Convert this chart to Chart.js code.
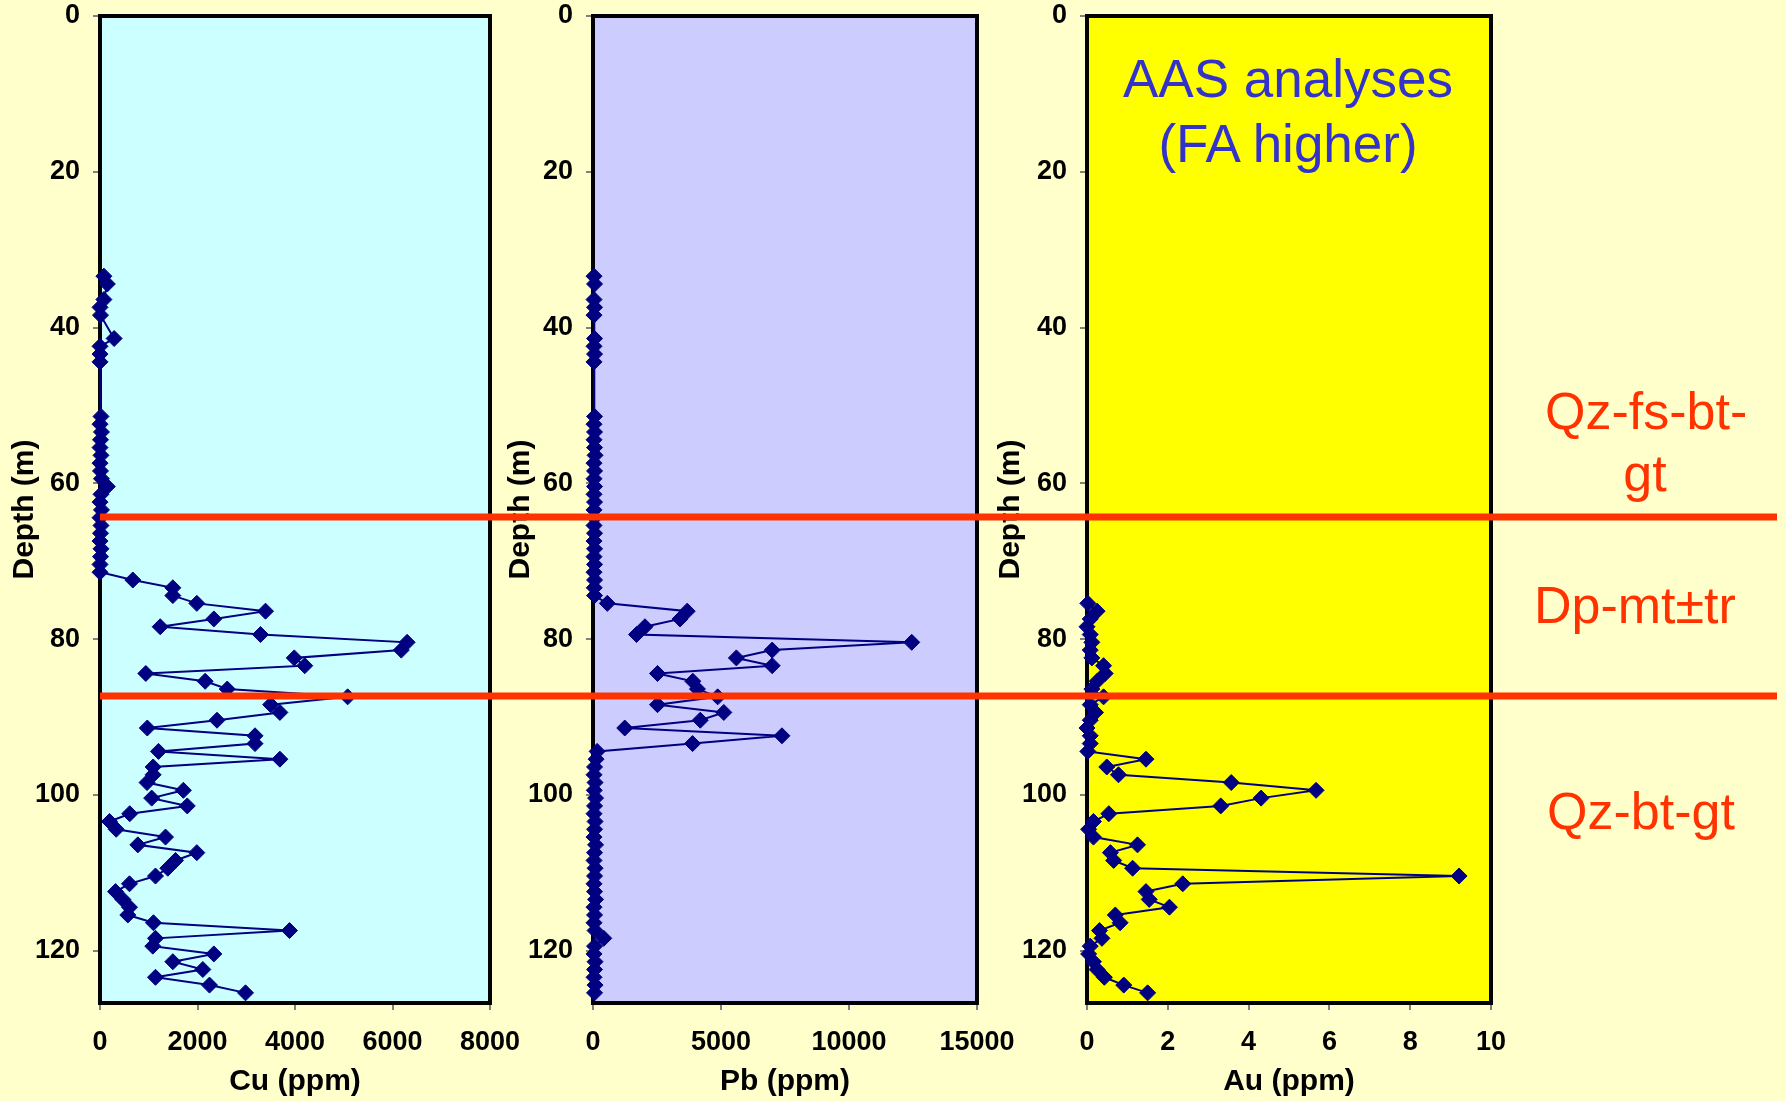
<!DOCTYPE html>
<html>
<head>
<meta charset="utf-8">
<title>Drill hole Cu-Pb-Au vs depth</title>
<script src="https://cdn.jsdelivr.net/npm/chart.js@4.4.1/dist/chart.umd.min.js"></script>
<style>
  html, body { margin: 0; padding: 0; background: #FFFFCC; overflow: hidden; }
  #stage { position: relative; width: 1786px; height: 1101px; font-family: "Liberation Sans", Arial, sans-serif; }
  #stage canvas { position: absolute; top: 0; }
  .note { position: absolute; text-align: center; white-space: nowrap; font-size: 52px; line-height: 62px; }
  .rock { color: #FF3300; }
  .aas { color: #3333CC; font-size: 53px; line-height: 65px; }
</style>
</head>
<body>
<div id="stage">
  <canvas id="cu" width="540" height="1101" style="left:0px"></canvas>
  <canvas id="pb" width="540" height="1101" style="left:496px"></canvas>
  <canvas id="au" width="540" height="1101" style="left:986px"></canvas>
  <canvas id="contacts" width="1786" height="1101" style="left:0px;pointer-events:none"></canvas>
  <div class="note aas" style="left:1088px;width:400px;top:46px">AAS analyses<br>(FA higher)</div>
  <div class="note rock" style="left:1545px;width:200px;top:380px">Qz-fs-bt-<br>gt</div>
  <div class="note rock" style="left:1534px;width:200px;top:574px">Dp-mt±tr</div>
  <div class="note rock" style="left:1541px;width:200px;top:780px">Qz-bt-gt</div>
</div>
<script>
// ── data: sample depths (m) and assays ─────────────────────────────────────
const drillDepth = [
  33.4, 34.4, 36.4, 37.4, 38.4, 41.4, 42.4, 43.4, 44.4,
  51.4, 52.4, 53.4, 54.4, 55.4, 56.4, 57.4, 58.4, 59.4, 60.4, 61.4,
  62.4, 63.4, 64.4, 65.4, 66.4, 67.4, 68.4, 69.4, 70.4, 71.4,
  72.4, 73.4, 74.4, 75.4, 76.4, 77.4, 78.4, 79.4, 80.4, 81.4,
  82.4, 83.4, 84.4, 85.4, 86.4, 87.4, 88.4, 89.4, 90.4, 91.4,
  92.4, 93.4, 94.4, 95.4, 96.4, 97.4, 98.4, 99.4, 100.4, 101.4,
  102.4, 103.4, 104.4, 105.4, 106.4, 107.4, 108.4, 109.4, 110.4, 111.4,
  112.4, 113.4, 114.4, 115.4, 116.4, 117.4, 118.4, 119.4, 120.4, 121.4,
  122.4, 123.4, 124.4, 125.4
];
const cuPpm = [
  80, 150, 80, 0, 10, 290, 0, 0, 0,
  20, 0, 30, 10, 0, 20, 0, 10, 30, 150, 20,
  0, 30, 0, 20, 10, 0, 20, 10, 0, 0,
  673, 1494, 1494, 1986, 3395, 2335, 1235, 3292, 6300, 6180,
  3985, 4200, 940, 2157, 2610, 5080, 3500, 3690, 2400, 970,
  3180, 3180, 1200, 3690, 1090, 1090, 965, 1710, 1060, 1790,
  610, 195, 332, 1344, 776, 1986, 1549, 1391, 1138, 605,
  318, 468, 605, 571, 1097, 3887, 1138, 1083, 2335, 1494,
  2109, 1138, 2246, 2985
];
const pbPpm = [
  40, 60, 40, 60, 40, 60, 40, 60, 40,
  60, 40, 60, 40, 60, 80, 40, 60, 40, 60, 40,
  60, 40, 60, 40, 60, 40, 60, 40, 60, 40,
  60, 50, 60, 560, 3680, 3400, 2030, 1700, 12450, 7000,
  5600, 7000, 2520, 3900, 4080, 4870, 2520, 5110, 4190, 1240,
  7380, 3890, 160, 120, 60, 40, 80, 50, 100, 60,
  40, 80, 60, 40, 100, 60, 40, 80, 60, 40,
  60, 100, 40, 60, 40, 80, 420, 60, 40, 80,
  60, 40, 80, 60
];
const auDepth = [
  75.4, 76.4, 77.4, 78.4, 79.4, 80.4, 81.4, 82.4, 83.4, 84.4,
  85.4, 86.4, 87.4, 88.4, 89.4, 90.4, 91.4, 92.4, 93.4, 94.4,
  95.4, 96.4, 97.4, 98.4, 99.4, 100.4, 101.4, 102.4, 103.4, 104.4,
  105.4, 106.4, 107.4, 108.4, 109.4, 110.4, 111.4, 112.4, 113.4, 114.4,
  115.4, 116.4, 117.4, 118.4, 119.4, 120.4, 121.4, 122.4, 123.4, 124.4,
  125.4
];
const auPpm = [
  0.02, 0.25, 0.08, 0.0, 0.08, 0.12, 0.08, 0.12, 0.41, 0.45,
  0.25, 0.12, 0.41, 0.08, 0.21, 0.08, 0.0, 0.08, 0.08, 0.02,
  1.46, 0.49, 0.78, 3.57, 5.67, 4.31, 3.31, 0.54, 0.16, 0.04,
  0.16, 1.25, 0.58, 0.66, 1.13, 9.21, 2.37, 1.46, 1.54, 2.04,
  0.70, 0.82, 0.31, 0.37, 0.08, 0.04, 0.16, 0.25, 0.43, 0.91,
  1.50
];
// lithology contacts (m)
const contactDepths = [64.3, 87.3];

const FONT = '"Liberation Sans", Arial, sans-serif';
const NAVY = '#000080';

// plot background + black frame, drawn under the data (markers overlap the frame)
const panelFrame = {
  id: 'panelFrame',
  beforeDatasetsDraw(chart, args, opts) {
    const { ctx, chartArea: a } = chart;
    ctx.save();
    ctx.fillStyle = opts.fill;
    ctx.fillRect(a.left, a.top, a.right - a.left, a.bottom - a.top);
    ctx.strokeStyle = '#000';
    ctx.lineWidth = 4;
    ctx.strokeRect(a.left, a.top, a.right - a.left, a.bottom - a.top);
    ctx.restore();
  },
};

// fixed axis boxes so the plot areas sit where the layout wants them
const fixBox = (w, h) => (s) => {
  if (w !== null) s.width = w;
  if (h !== null) s.height = h;
  s.paddingTop = 0; s.paddingBottom = 0; s.paddingLeft = 0; s.paddingRight = 0;
};

function logChart(id, depths, values, o) {
  return new Chart(document.getElementById(id), {
    type: 'scatter',
    data: {
      datasets: [{
        data: depths.map((d, i) => ({ x: values[i], y: d })),
        showLine: true,
        borderColor: NAVY,
        borderWidth: 2,
        pointStyle: 'rectRot',
        pointRadius: 8,
        pointBackgroundColor: NAVY,
        pointBorderColor: NAVY,
        pointBorderWidth: 1,
        clip: false,
      }],
    },
    options: {
      responsive: false,
      animation: false,
      devicePixelRatio: 1,
      layout: { padding: { top: 16, right: o.padRight, left: 0, bottom: 0 } },
      plugins: {
        legend: { display: false },
        tooltip: { enabled: false },
        panelFrame: { fill: o.fill },
      },
      scales: {
        x: {
          type: 'linear',
          min: 0, max: o.xMax,
          afterFit: fixBox(null, 98),
          border: { display: false },
          grid: { drawOnChartArea: false, drawTicks: true, tickLength: 7, color: '#808080', lineWidth: 2 },
          ticks: {
            stepSize: o.xStep, padding: 16, color: '#000',
            font: { family: FONT, size: 27, weight: 'bold' },
            callback: (v) => String(v),
          },
          title: {
            display: true, text: o.title, color: '#000',
            font: { family: FONT, size: 30, weight: 'bold' },
            padding: { top: 0, bottom: 1 },
          },
        },
        y: {
          type: 'linear',
          reverse: true,
          min: 0, max: 126.7,
          afterFit: fixBox(o.yWidth, null),
          border: { display: false },
          grid: { drawOnChartArea: false, drawTicks: true, tickLength: 7, color: '#808080', lineWidth: 2 },
          ticks: {
            stepSize: 20, includeBounds: false, padding: 13, color: '#000',
            font: { family: FONT, size: 27, weight: 'bold' },
          },
          title: {
            display: true, text: 'Depth (m)', color: '#000',
            font: { family: FONT, size: 30, weight: 'bold' },
            padding: { top: 7, bottom: 0 },
          },
        },
      },
    },
    plugins: [panelFrame],
  });
}

const cuChart = logChart('cu', drillDepth, cuPpm, { title: 'Cu (ppm)', xMax: 8000, xStep: 2000, fill: '#CCFFFF', yWidth: 100, padRight: 50 });
logChart('pb', drillDepth, pbPpm, { title: 'Pb (ppm)', xMax: 15000, xStep: 5000, fill: '#CCCCFF', yWidth: 97, padRight: 59 });
logChart('au', auDepth, auPpm, { title: 'Au (ppm)', xMax: 10, xStep: 2, fill: '#FFFF00', yWidth: 101, padRight: 35 });

// ── red contact lines across all three logs, placed with the depth scale ──
(function drawContacts() {
  const ctx = document.getElementById('contacts').getContext('2d');
  const yScale = cuChart.scales.y;
  const x0 = cuChart.chartArea.left;
  ctx.strokeStyle = '#FF3300';
  ctx.lineWidth = 7;
  contactDepths.forEach((d) => {
    const y = yScale.getPixelForValue(d);
    ctx.beginPath();
    ctx.moveTo(x0, y);
    ctx.lineTo(1777, y);
    ctx.stroke();
  });
})();
</script>
</body>
</html>
